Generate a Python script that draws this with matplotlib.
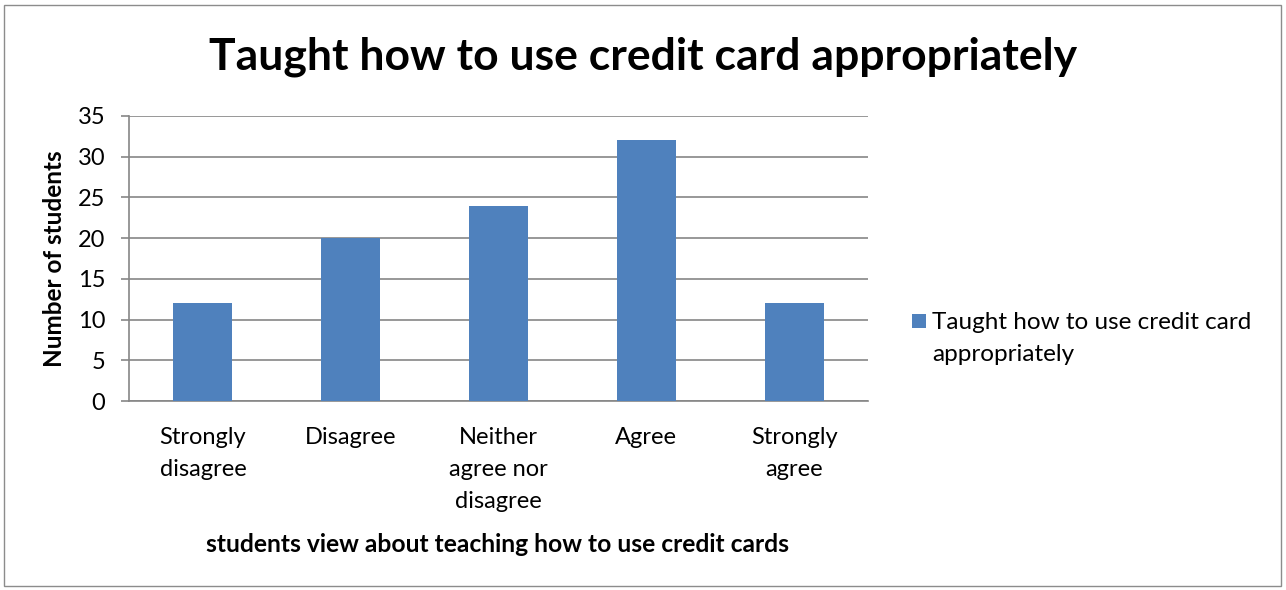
import matplotlib
matplotlib.use("Agg")
import matplotlib.pyplot as plt
from matplotlib.patches import Rectangle

categories = ["Strongly\ndisagree", "Disagree", "Neither\nagree nor\ndisagree", "Agree", "Strongly\nagree"]
counts = [12, 20, 24, 32, 12]
yticks = [0, 5, 10, 15, 20, 25, 30, 35]
series_name = "Taught how to use credit card\nappropriately"
title = "Taught how to use credit card appropriately"
xlabel = "students view about teaching how to use credit cards"
ylabel = "Number of students"

BAR = "#4F81BD"
GRID = "#868686"
FONT = "Lato"

W, H = 1286, 590
fig = plt.figure(figsize=(W / 100, H / 100), dpi=100)
fig.patch.set_facecolor("white")

# chart frame
fig.patches.append(Rectangle((4 / W, 4 / H), 1 - 9 / W, 1 - 9 / H, transform=fig.transFigure,
                             fill=False, edgecolor="#8c8c8c", linewidth=1.0))

left, right, top, bottom = 129, 868, 116, 401
ax = fig.add_axes([left / W, 1 - bottom / H, (right - left) / W, (bottom - top) / H])

x = range(len(categories))
ax.bar(x, counts, width=0.4, color=BAR, zorder=3)
ax.set_xlim(-0.5, len(categories) - 0.5)
ax.set_ylim(0, 35)
ax.set_yticks(yticks)
ax.set_yticklabels([str(v) for v in yticks], fontsize=17, family=FONT)
ax.set_xticks(list(x))
ax.set_xticklabels(categories, fontsize=17, family=FONT, linespacing=1.63, va="top")
ax.tick_params(axis="x", length=0, pad=19)
ax.tick_params(axis="y", length=6, width=1.2, color=GRID, pad=11)
ax.yaxis.grid(True, color=GRID, linewidth=1.2, zorder=0)
for side in ["top", "right"]:
    ax.spines[side].set_visible(False)
ax.spines["left"].set_color(GRID)
ax.spines["left"].set_linewidth(1.2)
ax.spines["bottom"].set_color(GRID)
ax.spines["bottom"].set_linewidth(1.2)

fig.text(643 / W, 1 - 57 / H, title, ha="center", va="center", fontsize=32,
         fontweight="bold", family=FONT)
fig.text(498 / W, 1 - 544 / H, xlabel, ha="center", va="center", fontsize=17.7,
         fontweight="bold", family=FONT)
fig.text(55 / W, 1 - 259 / H, ylabel, ha="center", va="center", rotation=90,
         fontsize=17.5, fontweight="bold", family=FONT)

# legend
fig.patches.append(Rectangle((912 / W, 1 - 328 / H), 14 / W, 14 / H, transform=fig.transFigure,
                             facecolor=BAR, edgecolor="none"))
fig.text(932 / W, 1 - 312 / H, series_name, ha="left", va="top", fontsize=17.5,
         family=FONT, linespacing=1.64)

fig.savefig("out.png", dpi=100)
